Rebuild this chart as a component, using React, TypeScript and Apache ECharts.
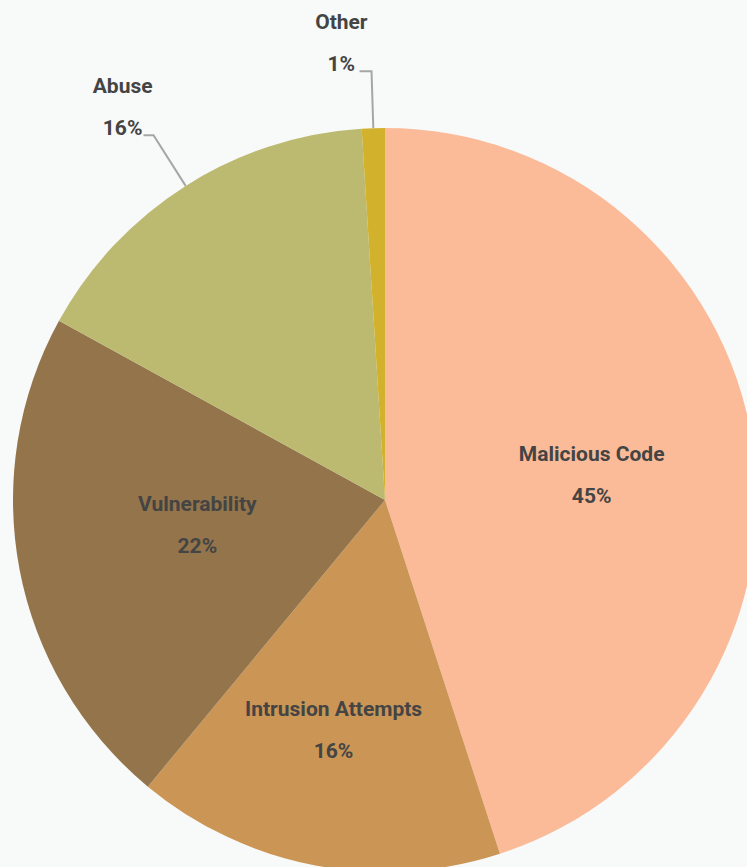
import React, { useEffect, useRef } from "react";
import * as echarts from "echarts";

const categories = ["Malicious Code", "Intrusion Attempts", "Vulnerability", "Abuse", "Other"];
const values = [45, 16, 22, 16, 1];
const colors = ["#FBBB98", "#CB9555", "#94744A", "#BCB970", "#D2B22C"];
const outsideLabels = [false, false, false, true, true];
const labelOffsets = [[20, 5], [-16, 44], [-2, -10], [0, 0], [0, 0]];
const lineLengths = [[0, 0], [0, 0], [0, 0], [60, 10], [57, 12]];
const labelGaps = [0, 0, 0, -9, -8];

const TEXT = "#444444";
const FONT = "Roboto, 'Liberation Sans', sans-serif";

export default function App() {
  const ref = useRef<HTMLDivElement>(null);
  useEffect(() => {
    if (!ref.current) return;
    const chart = echarts.init(ref.current, null, { renderer: "svg" });
    const rich = {
      n: { fontFamily: FONT, fontWeight: "bold", fontSize: 21, color: TEXT, lineHeight: 42, align: "center" },
      p: { fontFamily: FONT, fontWeight: "bold", fontSize: 21, color: TEXT, lineHeight: 42, align: "center" },
      e: { fontSize: 21, lineHeight: 56 },
    };
    const data = categories.map((name, i) => {
      const out = outsideLabels[i];
      return {
        name,
        value: values[i],
        itemStyle: { color: colors[i] },
        label: {
          show: true,
          position: out ? "outside" : "inside",
          formatter: out ? "{n|{b}}\n{p|{c}%}\n{e| }" : "{n|{b}}\n{p|{c}%}",
          distanceToLabelLine: labelGaps[i],
          rich,
        },
        labelLine: {
          show: out,
          length: lineLengths[i][0],
          length2: lineLengths[i][1],
          smooth: false,
          lineStyle: { color: "#A6A6A6", width: 2 },
        },
      };
    });
    chart.setOption({
      animation: false,
      backgroundColor: "#F8F9F9",
      series: [
        {
          type: "pie",
          center: [385, 500],
          radius: [0, 372],
          startAngle: 90,
          clockwise: true,
          avoidLabelOverlap: false,
          itemStyle: { borderWidth: 0 },
          emphasis: { disabled: true },
          labelLayout: (params: any) => {
            const i = params.dataIndex;
            if (outsideLabels[i]) return {};
            return { dx: labelOffsets[i][0], dy: labelOffsets[i][1] };
          },
          data,
        },
      ],
    });
    return () => chart.dispose();
  }, []);
  return (
    <div
      ref={ref}
      style={{ position: "fixed", left: 0, top: 0, width: 747, height: 867 }}
    />
  );
}
